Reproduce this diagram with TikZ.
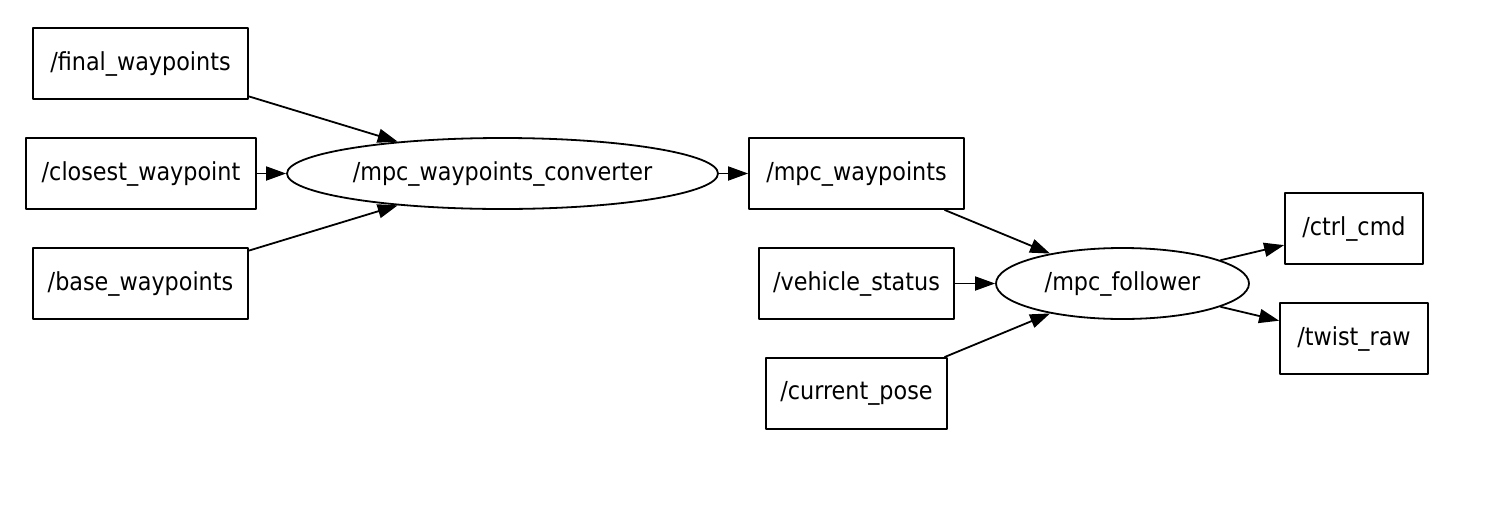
\documentclass[tikz,border=0pt]{standalone}
\usepackage{fontspec}
\setmainfont{DejaVu Sans Condensed}
\usetikzlibrary{arrows.meta,shapes.geometric}

\begin{document}
\begin{tikzpicture}[x=0.5pt,y=-0.5pt,>={Triangle[length=10pt,width=7pt]},line join=round,
  topic/.style={draw,line width=0.9pt,rectangle,inner sep=0pt,minimum height=35.5pt,font=\fontsize{12.4}{14}\selectfont},
  rosnode/.style={draw,line width=0.9pt,ellipse,inner sep=0pt,minimum height=35.5pt,font=\fontsize{12.4}{14}\selectfont},
  link/.style={->,line width=0.9pt}]
\useasboundingbox (0,0) rectangle (1485,531);
\node[topic,minimum width=107.5pt] (fw) at (140.5,63.5) {/final\_waypoints};
\node[topic,minimum width=115pt] (cw) at (141,173.5) {/closest\_waypoint};
\node[topic,minimum width=107.5pt] (bw) at (140.5,283.5) {/base\_waypoints};
\node[rosnode,minimum width=215.5pt] (conv) at (502.5,173.5) {/mpc\_waypoints\_converter};
\node[topic,minimum width=107.5pt] (mwp) at (856.5,173.5) {/mpc\_waypoints};
\node[topic,minimum width=97.5pt] (vs) at (856.5,283.5) {/vehicle\_status};
\node[topic,minimum width=90.5pt] (cp) at (856.5,393.5) {/current\_pose};
\node[rosnode,minimum width=126.5pt] (fol) at (1122.5,283.5) {/mpc\_follower};
\node[topic,minimum width=69pt] (cc) at (1354,228.5) {/ctrl\_cmd};
\node[topic,minimum width=74pt] (tr) at (1354,338.5) {/twist\_raw};
\draw[link] (fw) -- (conv);
\draw[link] (cw) -- (conv);
\draw[link] (bw) -- (conv);
\draw[link] (conv) -- (mwp);
\draw[link] (mwp) -- (fol);
\draw[link] (vs) -- (fol);
\draw[link] (cp) -- (fol);
\draw[link] (fol) -- (cc);
\draw[link] (fol) -- (tr);
\end{tikzpicture}
\end{document}
